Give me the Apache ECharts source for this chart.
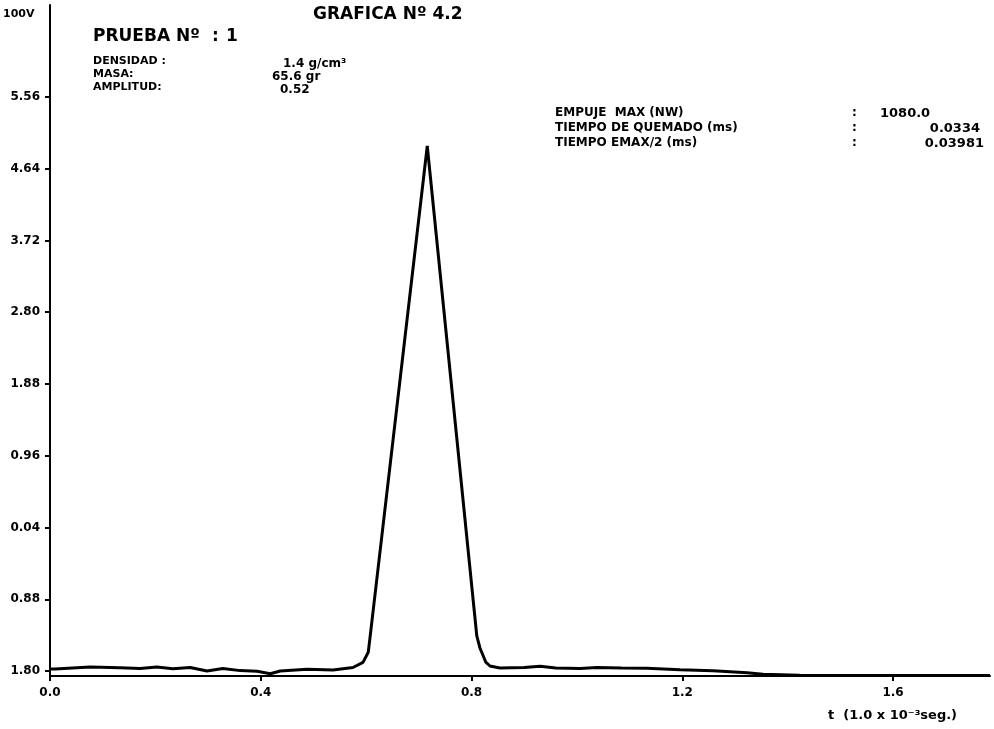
<!DOCTYPE html>
<html>
<head>
<meta charset="utf-8">
<script src="https://cdn.jsdelivr.net/npm/echarts@6/dist/echarts.min.js"></script>
<style>
  html, body { margin: 0; padding: 0; background: #fff; }
  #chart { width: 994px; height: 729px; }
</style>
</head>
<body>
<div id="chart"></div>
<script>
// time axis, 10^-3 s
const tValues = [0, 0.0095, 0.076, 0.133, 0.171, 0.203, 0.233, 0.266, 0.298, 0.328, 0.361, 0.393, 0.418, 0.437, 0.488, 0.537, 0.575, 0.594, 0.604, 0.607,
  0.716,
  0.810, 0.816, 0.827, 0.835, 0.854, 0.900, 0.930, 0.960, 1.006, 1.038, 1.085, 1.133, 1.196, 1.258, 1.323, 1.353, 1.423, 1.520, 1.613, 1.700, 1.784]
// signal (100V units)
const vValues = [-1.775, -1.774, -1.749, -1.758, -1.767, -1.750, -1.772, -1.755, -1.799, -1.769, -1.795, -1.804, -1.835, -1.800, -1.779, -1.786, -1.755, -1.690, -1.560, -1.392,
  4.931,
  -1.351, -1.505, -1.685, -1.736, -1.761, -1.755, -1.740, -1.760, -1.768, -1.755, -1.762, -1.764, -1.783, -1.797, -1.822, -1.843, -1.854, -1.856, -1.858, -1.857, -1.858]

const yTickValues = [-1.80, -0.88, 0.04, 0.96, 1.88, 2.80, 3.72, 4.64, 5.56]
const yTickLabels = ['1.80', '0.88', '0.04', '0.96', '1.88', '2.80', '3.72', '4.64', '5.56']
const xTickValues = [0, 0.4, 0.8, 1.2, 1.6]
const xTickLabels = ['0.0', '0.4', '0.8', '1.2', '1.6']

const font = 'DejaVu Sans'
const lbl = (vals, labels) => v => {
  const i = vals.findIndex(d => Math.abs(d - v) < 1e-6)
  return i < 0 ? '' : labels[i]
}
const txt = (x, y, text, size, extra) => ({
  type: 'text', left: x, top: y,
  style: Object.assign({text: text, font: 'bold ' + size + 'px "' + font + '"', fill: '#000'}, extra || {})
})

const chart = echarts.init(document.getElementById('chart'))
chart.setOption({
  animation: false,
  backgroundColor: '#fff',
  grid: {left: 50, right: 4, top: 5, bottom: 53},
  xAxis: {
    type: 'value', min: 0, max: 1.784,
    axisLine: {show: true, onZero: false, lineStyle: {color: '#000', width: 2}},
    axisTick: {show: true, customValues: xTickValues, length: 5, lineStyle: {color: '#000', width: 2}},
    axisLabel: {customValues: xTickValues, formatter: lbl(xTickValues, xTickLabels), color: '#000', fontFamily: font, fontWeight: 'bold', fontSize: 12, margin: 11},
    splitLine: {show: false}
  },
  yAxis: {
    type: 'value', min: -1.864, max: 6.739,
    axisLine: {show: true, onZero: false, lineStyle: {color: '#000', width: 2}},
    axisTick: {show: true, customValues: yTickValues, length: 5, lineStyle: {color: '#000', width: 2}},
    axisLabel: {customValues: yTickValues, formatter: lbl(yTickValues, yTickLabels), color: '#000', fontFamily: font, fontWeight: 'bold', fontSize: 12, margin: 10},
    splitLine: {show: false}
  },
  series: [{
    type: 'line',
    data: tValues.map((t, i) => [t, vValues[i]]),
    symbol: 'none',
    lineStyle: {color: '#000', width: 3},
    z: 3
  }],
  graphic: [
    txt(3, 9, '100V', 11),
    txt(313, 6, 'GRAFICA Nº 4.2', 17),
    txt(93, 28, 'PRUEBA Nº', 17),
    txt(212, 28, ':', 17),
    txt(226, 28, '1', 17),
    txt(93, 56, 'DENSIDAD :', 11),
    txt(93, 69, 'MASA:', 11),
    txt(93, 82, 'AMPLITUD:', 11),
    txt(283, 58, '1.4 g/cm³', 12),
    txt(272, 71, '65.6 gr', 12),
    txt(280, 84, '0.52', 12),
    txt(555, 107, 'EMPUJE  MAX (NW)', 12),
    txt(555, 122, 'TIEMPO DE QUEMADO (ms)', 12),
    txt(555, 137, 'TIEMPO EMAX/2 (ms)', 12),
    txt(852, 107, ':', 12),
    txt(852, 122, ':', 12),
    txt(852, 137, ':', 12),
    txt(880, 107, '1080.0', 13),
    {type: 'text', right: 14, top: 122, style: {text: '0.0334', font: 'bold 13px "' + font + '"', fill: '#000'}},
    {type: 'text', right: 10, top: 137, style: {text: '0.03981', font: 'bold 13px "' + font + '"', fill: '#000'}},
    txt(828, 709, 't  (1.0 x 10⁻³seg.)', 13)
  ]
})
</script>
</body>
</html>
